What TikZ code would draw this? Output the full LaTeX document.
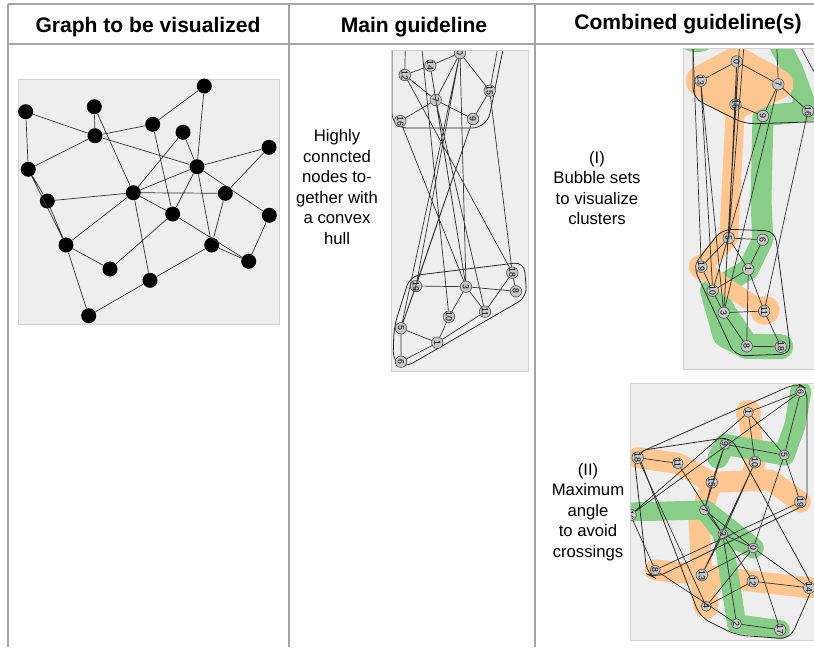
\documentclass[tikz,border=0pt]{standalone}
\usepackage{fontspec}
\setmainfont{Liberation Sans}

\definecolor{panelgray}{RGB}{238,238,238}
\definecolor{rulegray}{RGB}{165,165,165}
\definecolor{nodegray}{RGB}{200,200,200}
\definecolor{bubbleorange}{RGB}{253,198,145}
\definecolor{bubblegreen}{RGB}{136,206,136}

\tikzset{
  tablerule/.style={rulegray, line width=1pt},
  panel/.style={fill=panelgray, draw=black!18, line width=0.5pt},
  bignode/.style={circle, fill=black, minimum size=0.3cm, inner sep=0pt},
  smallnode/.style={circle, draw=black!75, fill=nodegray, line width=0.3pt, minimum size=0.23cm, inner sep=0pt, font=\fontsize{5}{5}\selectfont, rotate=-90},
  graphedge/.style={black!80, line width=0.4pt},
  hull/.style={black!85, line width=0.45pt, rounded corners=0.2cm},
  orangebub/.style={bubbleorange, line cap=round, line join=round},
  greenbub/.style={bubblegreen, line cap=round, line join=round},
  heading/.style={font=\bfseries\fontsize{12}{14}\selectfont},
  celltext/.style={align=center, font=\fontsize{9.5}{11.7}\selectfont},
}

\begin{document}
\begin{tikzpicture}[x=0.02cm, y=-0.02cm]
\useasboundingbox (0,0) rectangle (814,647);

\draw[tablerule] (8,4) -- (814,4);
\draw[tablerule] (8,44) -- (814,44);
\draw[tablerule] (8,4) -- (8,647);
\draw[tablerule] (289,4) -- (289,647);
\draw[tablerule] (535,4) -- (535,647);

\node[heading] (head1) at (148,27) {Graph to be visualized};
\node[heading] (head2) at (414,27) {Main guideline};
\node[heading] (head3) at (688,24) {Combined guideline(s)};

\node[celltext] (text1) at (337,187) {Highly\\conncted\\nodes to-\\gether with\\a convex\\hull};
\node[celltext] (text2) at (597,188) {(I)\\Bubble sets\\to visualize\\clusters};
\node[celltext] (text3) at (588,512) {(II)\\Maximum\\angle\\to avoid\\crossings};

% graph to be visualized
\draw[panel] (18,79) rectangle (279,324);
\node[bignode] (v1) at (25.7,111.7) {};
\node[bignode] (v2) at (94.3,106.7) {};
\node[bignode] (v3) at (204.3,86) {};
\node[bignode] (v4) at (152.7,124.3) {};
\node[bignode] (v5) at (95,135.7) {};
\node[bignode] (v6) at (183,132.3) {};
\node[bignode] (v7) at (269,147.3) {};
\node[bignode] (v8) at (28.3,169.3) {};
\node[bignode] (v9) at (197,166.7) {};
\node[bignode] (v10) at (133.3,192.7) {};
\node[bignode] (v11) at (47.3,201) {};
\node[bignode] (v12) at (225.3,193.3) {};
\node[bignode] (v13) at (172.7,214) {};
\node[bignode] (v14) at (269.3,215.3) {};
\node[bignode] (v15) at (66,245) {};
\node[bignode] (v16) at (211.7,245) {};
\node[bignode] (v17) at (248.7,261.3) {};
\node[bignode] (v18) at (110,269) {};
\node[bignode] (v19) at (150,280.3) {};
\node[bignode] (v20) at (88.7,315.7) {};
\draw[graphedge] (v1) -- (v5) (v1) -- (v8) (v2) -- (v5) (v2) -- (v10) (v3) -- (v4) (v3) -- (v9)
  (v4) -- (v5) (v4) -- (v13) (v5) -- (v8) (v5) -- (v9) (v6) -- (v10) (v6) -- (v9) (v7) -- (v9)
  (v7) -- (v12) (v8) -- (v11) (v8) -- (v15) (v9) -- (v10) (v9) -- (v13) (v9) -- (v16) (v9) -- (v14)
  (v10) -- (v12) (v10) -- (v13) (v10) -- (v15) (v10) -- (v19) (v10) -- (v11) (v12) -- (v16)
  (v13) -- (v18) (v13) -- (v17) (v14) -- (v17) (v15) -- (v18) (v15) -- (v20) (v16) -- (v19)
  (v16) -- (v17) (v19) -- (v20) (v11) -- (v15);

% main guideline
\fill[panelgray] (391,50) rectangle (528,371);
\begin{scope}
\clip (391,50) rectangle (528,371);
\coordinate (mtop1) at (406,20);
\coordinate (mtop2) at (419,20);
\coordinate (mtop3) at (455,20);
\coordinate (mtop4) at (503,20);
\draw[hull, rounded corners=0.3cm] (392,20) -- (392,128) -- (487,128) -- (509,20);
\draw[hull] (467,269) -- (524,262) -- (527,297) -- (404,368) -- (393,362) -- (394,327) -- (410,276) -- cycle;
\node[smallnode] (m0) at (460,53) {0};
\node[smallnode] (m14) at (430.3,65.7) {14};
\node[smallnode] (m12) at (404.7,75) {12};
\node[smallnode] (m7) at (435.7,100) {7};
\node[smallnode] (m15) at (489.7,90.7) {15};
\node[smallnode] (m16) at (400.3,121) {16};
\node[smallnode] (m9) at (473,119) {9};
\node[smallnode] (m19) at (416,286) {19};
\node[smallnode] (m3) at (466,286.7) {3};
\node[smallnode] (m18) at (512.3,272.7) {18};
\node[smallnode] (m8) at (516,291.3) {8};
\node[smallnode] (m10) at (449,316.7) {10};
\node[smallnode] (m11) at (485,311.7) {11};
\node[smallnode] (m5) at (401,328.3) {5};
\node[smallnode] (m1) at (437.3,342.7) {1};
\node[smallnode] (m6) at (401,361.7) {6};
\draw[graphedge] (m12) -- (m14) (m14) -- (m0) (m12) -- (m7) (m14) -- (m7) (m0) -- (m7) (m0) -- (m15)
  (m15) -- (m9) (m7) -- (m9) (m7) -- (m16) (m16) -- (m3) (m0) -- (m19) (m0) -- (m5) (m0) -- (m3)
  (m14) -- (m3) (m7) -- (m3) (m7) -- (m11) (m9) -- (m19) (m15) -- (m18) (m12) -- (m18) (m9) -- (m5)
  (m19) -- (m3) (m3) -- (m8) (m3) -- (m10) (m3) -- (m11) (m10) -- (m1) (m1) -- (m11) (m1) -- (m5)
  (m1) -- (m6) (m5) -- (m6) (m5) -- (m19) (m18) -- (m8) (m18) -- (m11)
  (mtop1) -- (m12) (mtop2) -- (m10) (mtop3) -- (m0) (mtop4) -- (m15);
\end{scope}
\draw[black!18, line width=0.5pt] (391,50) rectangle (528,371);

% (I) bubble sets
\fill[panelgray] (683,48) rectangle (830,369);
\begin{scope}
\clip (683,48) rectangle (830,369);
\coordinate (btop1) at (692,20);
\coordinate (btop2) at (741,20);
\coordinate (btop3) at (746,20);
\coordinate (btop4) at (786,20);
\coordinate (bright) at (840,120);
\fill[bubblegreen] (697,44) ellipse (16 and 8);
\draw[greenbub, line width=0.42cm] (776,38) -- (792,68) -- (808,111) -- (763,116) -- (761,200) -- (762.7,239.7) -- (748.3,269.3) -- (712.7,290.7);
\draw[greenbub, line width=0.5cm] (712.7,290.7) -- (723.7,312.7) -- (746.7,346.3) -- (780.8,346.7);
\draw[greenbub, line width=0.5cm] (712.7,290.7) -- (725,335) -- (746.7,346.3);
\fill[bubbleorange] (700.7,80.7) -- (736.7,61.5) -- (778.3,84.3) -- (735.5,104.5) -- cycle;
\draw[orangebub, line width=0.6cm] (700.7,80.7) -- (736.7,61.5) -- (778.3,84.3) -- (735.5,104.5) -- cycle;
\draw[orangebub, line width=0.38cm] (735.5,104.5) -- (728.7,238) -- (701.3,266.7);
\draw[orangebub, line width=0.5cm] (701.3,266.7) -- (703,268);
\draw[orangebub, line width=0.34cm] (701.3,266.7) -- (724,285) -- (764.2,311);
\draw[orangebub, line width=0.55cm] (764.2,311) -- (766,310);
\draw[hull] (693,20) -- (693,98) -- (745,124) -- (840,121);
\draw[hull] (748,230) -- (775,231) -- (791,354) -- (735,356) -- (693,266) -- (722,229) -- cycle;
\node[smallnode] (btop) at (776.7,42) {};
\node[smallnode] (b0) at (736.7,61.5) {0};
\node[smallnode] (b13) at (700.7,80.7) {13};
\node[smallnode] (b7) at (778.3,84.3) {7};
\node[smallnode] (b15) at (735.5,104.5) {15};
\node[smallnode] (b9) at (763,116) {9};
\node[smallnode] (b16) at (808,111) {16};
\node[smallnode] (b5) at (728.7,238) {5};
\node[smallnode] (b6) at (762.7,239.7) {6};
\node[smallnode] (b19) at (701.3,266.7) {19};
\node[smallnode] (b1) at (748.3,269.3) {1};
\node[smallnode] (b10) at (712.7,290.7) {10};
\node[smallnode] (b3) at (723.7,312.7) {3};
\node[smallnode] (b11) at (764.2,311) {11};
\node[smallnode] (b8) at (746.7,346.3) {8};
\node[smallnode] (b18) at (780.8,346.7) {18};
\draw[graphedge] (b0) -- (b13) (b0) -- (b7) (b0) -- (b15) (b15) -- (b9) (b7) -- (b16) (b7) -- (b9)
  (b7) -- (btop) (b13) -- (b3) (b13) -- (b10) (b0) -- (b5) (b15) -- (b3) (b16) -- (b11) (b9) -- (b10)
  (b7) -- (b3) (b5) -- (b6) (b5) -- (b1) (b6) -- (b1) (b5) -- (b19) (b19) -- (b10) (b10) -- (b3)
  (b3) -- (b11) (b1) -- (b11) (b1) -- (b8) (b3) -- (b8) (b8) -- (b18) (b11) -- (b18) (b1) -- (b10)
  (btop1) -- (b19) (btop2) -- (b3) (btop3) -- (b5) (btop4) -- (bright);
\end{scope}
\draw[black!18, line width=0.5pt] (830,48) -- (683,48) -- (683,369) -- (830,369);

% (II) maximum angle
\fill[panelgray] (630,383) rectangle (830,640);
\begin{scope}
\clip (630,383) rectangle (830,640);
\draw[orangebub, line width=0.42cm] (637.7,457.7) -- (677.7,463.3) -- (711.7,482.3) -- (770,480) -- (800.3,502);
\draw[orangebub, line width=0.42cm] (748.3,412.3) -- (755,462.3) -- (752,478);
\draw[orangebub, line width=0.5cm] (748.3,412.3) -- (748.3,414);
\draw[orangebub, line width=0.42cm] (711.7,482.3) -- (699,520) -- (701.8,575);
\draw[orangebub, line width=0.42cm] (655.2,570) -- (701.8,575) -- (752.8,581.3) -- (809.2,587.8);
\draw[orangebub, line width=0.5cm] (701.8,575) -- (706.2,606.2);
\draw[greenbub, line width=0.42cm] (800.7,391.7) -- (795,425) -- (784.3,455) -- (725,444.3) -- (718,458);
\draw[greenbub, line width=0.38cm] (625,512) -- (704.5,510) -- (722.8,534.2) -- (753.3,548);
\draw[greenbub, line width=0.42cm] (704.5,510) -- (753.3,548);
\draw[greenbub, line width=0.38cm] (722.8,534.2) -- (733,600) -- (736.5,623.7) -- (780.2,629.7);
\draw[hull] (715,419) -- (797,383) -- (807,389) -- (807,504) -- (655,578) -- (647,574) -- (634,455) -- cycle;
\draw[hull] (684,444) -- (731,437) -- (813,587) -- (790,639) -- (736,635) -- (700,617) -- (637,451) -- cycle;
\node[smallnode, minimum size=0.2cm] (a6) at (800.7,391.7) {6};
\node[smallnode, minimum size=0.2cm] (a1) at (748.3,412.3) {1};
\node[smallnode, minimum size=0.2cm] (a9) at (725,444.3) {9};
\node[smallnode, minimum size=0.2cm] (a5) at (784.3,455) {5};
\node[smallnode, minimum size=0.2cm] (a18) at (637.7,457.7) {18};
\node[smallnode, minimum size=0.2cm] (a11) at (677.7,463.3) {11};
\node[smallnode, minimum size=0.2cm] (a10) at (755,462.3) {10};
\node[smallnode, minimum size=0.2cm] (a15) at (711.7,482.3) {15};
\node[smallnode, minimum size=0.2cm] (a19) at (800.3,502) {19};
\node[smallnode, minimum size=0.2cm] (a7) at (704.5,510) {7};
\node[smallnode, minimum size=0.2cm] (a16) at (630.5,515) {16};
\node[smallnode, minimum size=0.2cm] (a3) at (722.8,534.2) {3};
\node[smallnode, minimum size=0.2cm] (a0) at (753.3,548) {0};
\node[smallnode, minimum size=0.2cm] (a8) at (655.2,570) {8};
\node[smallnode, minimum size=0.2cm] (a13) at (701.8,575) {13};
\node[smallnode, minimum size=0.2cm] (a12) at (752.8,581.3) {12};
\node[smallnode, minimum size=0.2cm] (a14) at (809.2,587.8) {14};
\node[smallnode, minimum size=0.2cm] (a4) at (706.2,606.2) {4};
\node[smallnode, minimum size=0.2cm] (a2) at (736.5,623.7) {2};
\node[smallnode, minimum size=0.2cm] (a17) at (780.2,629.7) {17};
\draw[graphedge] (a6) -- (a1) (a6) -- (a5) (a1) -- (a5) (a1) -- (a10) (a1) -- (a16) (a6) -- (a16)
  (a9) -- (a5) (a9) -- (a15) (a9) -- (a7) (a18) -- (a11) (a11) -- (a3) (a15) -- (a7) (a10) -- (a3)
  (a10) -- (a13) (a5) -- (a19) (a5) -- (a0) (a19) -- (a8) (a7) -- (a3) (a7) -- (a0) (a3) -- (a0)
  (a3) -- (a13) (a3) -- (a12) (a3) -- (a2) (a0) -- (a4) (a0) -- (a13) (a0) -- (a17) (a0) -- (a14)
  (a12) -- (a14) (a12) -- (a4) (a2) -- (a17) (a8) -- (a2) (a16) -- (a8) (a18) -- (a4);
\end{scope}
\draw[black!18, line width=0.5pt] (830,383) -- (630,383) -- (630,640) -- (830,640);
\end{tikzpicture}
\end{document}
